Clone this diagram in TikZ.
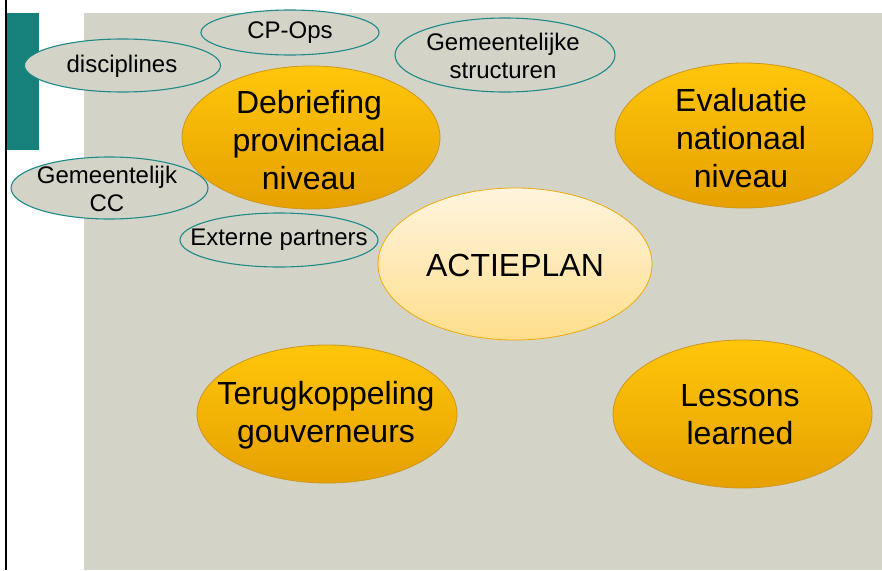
\documentclass[tikz,border=0pt]{standalone}
\usepackage{fontspec}
\setmainfont{Liberation Sans}
\usetikzlibrary{shapes.geometric}
\definecolor{bg}{RGB}{211,211,200}
\definecolor{tealbar}{RGB}{22,128,122}
\definecolor{tealline}{RGB}{30,138,138}
\definecolor{goldtop}{RGB}{255,198,10}
\definecolor{goldbot}{RGB}{230,160,0}
\definecolor{goldedge}{RGB}{205,150,30}
\definecolor{creamtop}{RGB}{255,244,222}
\definecolor{creambot}{RGB}{255,222,140}
\definecolor{creamedge}{RGB}{240,170,10}
\tikzset{
  bigoval/.style={ellipse, inner sep=0pt, draw=goldedge, line width=0.8pt,
    top color=goldtop, bottom color=goldbot},
  centeroval/.style={ellipse, inner sep=0pt, draw=creamedge, line width=0.8pt,
    top color=creamtop, bottom color=creambot},
  smalloval/.style={ellipse, inner sep=0pt, draw=tealline, line width=1.1pt, fill=bg},
  bigtext/.style={align=center, inner sep=0pt, font=\fontsize{32}{38}\selectfont},
  smalltext/.style={align=center, inner sep=0pt, font=\fontsize{24}{28}\selectfont},
}
\begin{document}
\begin{tikzpicture}[x=1pt,y=-1pt]
\useasboundingbox (0,0) rectangle (882,570);
\fill[white] (0,0) rectangle (882,570);
\fill[bg] (84,13) rectangle (882,570);
\fill[tealbar] (7,13) rectangle (39,150);
\draw[black, line width=1.6pt] (6,0) -- (6,570);

% big ovals
\node[bigoval, minimum width=258, minimum height=143] (deb) at (311,137.5) {};
\node[bigtext] at (309,140) {Debriefing\\provinciaal\\niveau};
\node[bigoval, minimum width=258, minimum height=145] (eva) at (744,135.5) {};
\node[bigtext] at (741,138) {Evaluatie\\nationaal\\niveau};
\node[bigoval, minimum width=260, minimum height=138] (ter) at (327,414) {};
\node[bigtext] at (326,415) {Terugkoppeling\\gouverneurs};
\node[bigoval, minimum width=259, minimum height=148] (les) at (742.5,414) {};
\node[bigtext] at (740,415) {Lessons\\learned};
\node[centeroval, minimum width=274, minimum height=152] (act) at (515,264) {};
\node[bigtext] at (515,265) {ACTIEPLAN};

% small ovals
\node[smalloval, minimum width=178, minimum height=45] (cpo) at (290,32.5) {};
\node[smalltext] at (290,33) {CP-Ops};
\node[smalloval, minimum width=196, minimum height=53] (dis) at (122.5,65.5) {};
\node[smalltext] at (122,66) {disciplines};
\node[smalloval, minimum width=220, minimum height=74] (gst) at (505,55) {};
\node[smalltext] at (503,56) {Gemeentelijke\\structuren};
\node[smalloval, minimum width=197, minimum height=62] (gcc) at (109.5,188) {};
\node[smalltext] at (107,189) {Gemeentelijk\\CC};
\node[smalloval, minimum width=198, minimum height=54] (ext) at (279,240) {};
\node[smalltext] at (279,240) {Externe partners};
\end{tikzpicture}
\end{document}
